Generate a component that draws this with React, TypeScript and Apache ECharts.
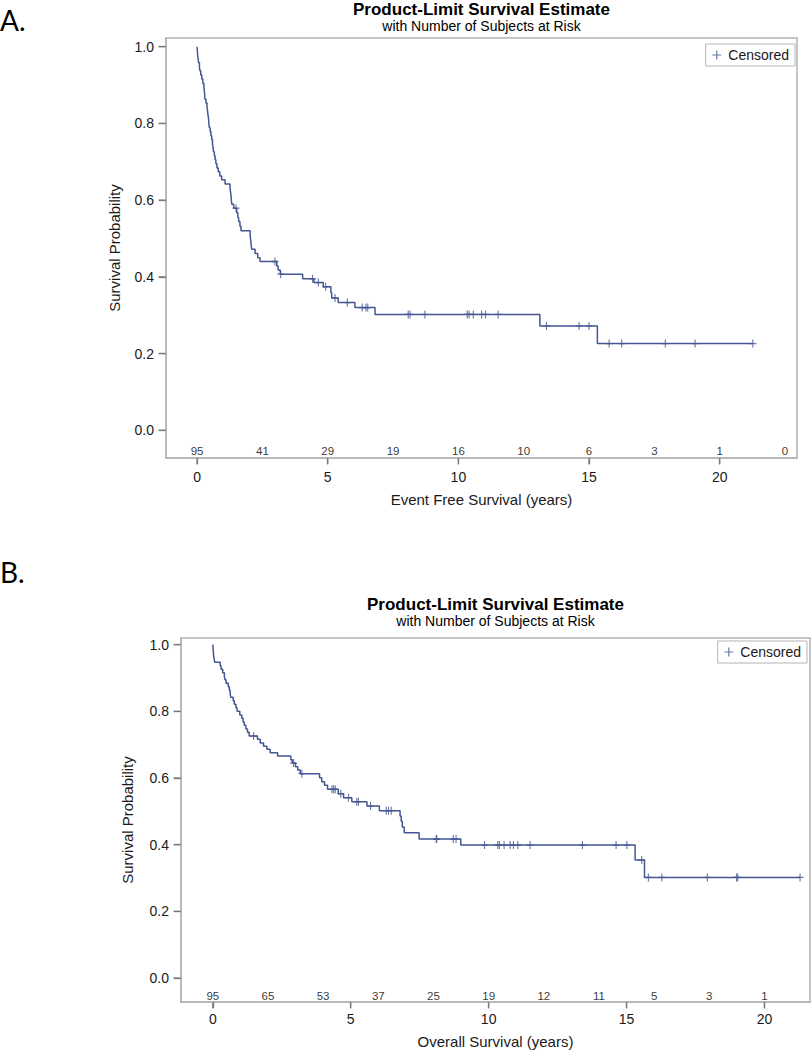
import React, { useEffect, useRef } from "react";
import * as echarts from "echarts";

// ---------- Panel A: Event Free Survival ----------
const efsEventTimes = [
  0.01, 0.02, 0.04, 0.06, 0.09, 0.11, 0.14, 0.18, 0.22, 0.26, 0.28, 0.29, 0.3, 0.34, 0.38, 0.4,
  0.42, 0.44, 0.45, 0.47, 0.5, 0.53, 0.56, 0.59, 0.61, 0.63, 0.66, 0.69, 0.72, 0.76, 0.81, 0.87,
  0.94, 1.07, 1.26, 1.28, 1.3, 1.31, 1.33, 1.4, 1.52, 1.56, 1.59, 1.64, 1.68, 2.03, 2.05, 2.07,
  2.09, 2.22, 2.32, 2.41, 3.05, 3.1, 3.18, 4.04, 4.47, 4.83, 5.12, 5.15, 5.4, 6.04, 6.81, 13.12,
  15.32,
];
const efsEventSurv = [
  0.989, 0.979, 0.968, 0.958, 0.947, 0.937, 0.926, 0.916, 0.905, 0.895, 0.884, 0.874, 0.863,
  0.853, 0.842, 0.832, 0.821, 0.811, 0.8, 0.789, 0.779, 0.768, 0.758, 0.747, 0.737, 0.726, 0.716,
  0.705, 0.695, 0.684, 0.674, 0.663, 0.653, 0.642, 0.632, 0.621, 0.611, 0.6, 0.589, 0.579, 0.567,
  0.555, 0.544, 0.532, 0.52, 0.508, 0.496, 0.484, 0.472, 0.461, 0.45, 0.44, 0.428, 0.418, 0.407,
  0.395, 0.385, 0.374, 0.359, 0.345, 0.333, 0.32, 0.302, 0.272, 0.226,
];
const efsCensorTimes = [
  1.49, 2.98, 3.2, 4.42, 4.64, 4.92, 5.28, 5.75, 6.32, 6.46, 6.53, 8.08, 8.15, 8.72, 10.34, 10.41,
  10.57, 10.89, 11.04, 11.52, 13.37, 14.62, 15.0, 15.77, 16.25, 17.92, 19.06, 21.27,
];
const efsRiskTimes = [0, 2.5, 5, 7.5, 10, 12.5, 15, 17.5, 20, 22.5];
const efsRiskCounts = [95, 41, 29, 19, 16, 10, 6, 3, 1, 0];

// ---------- Panel B: Overall Survival ----------
const osEventTimes = [
  0.01, 0.02, 0.03, 0.05, 0.07, 0.27, 0.3, 0.36, 0.42, 0.44, 0.48, 0.56, 0.6, 0.63, 0.65, 0.74,
  0.78, 0.84, 0.88, 0.98, 1.05, 1.1, 1.14, 1.2, 1.26, 1.32, 1.62, 1.72, 1.84, 1.96, 2.08, 2.35,
  2.83, 2.88, 3.0, 3.08, 3.17, 3.87, 3.95, 4.05, 4.16, 4.55, 4.74, 5.04, 5.59, 6.04, 6.79, 6.83,
  6.87, 6.94, 7.48, 8.99, 15.31, 15.65,
];
const osEventSurv = [
  0.989, 0.979, 0.968, 0.958, 0.947, 0.937, 0.926, 0.916, 0.905, 0.895, 0.884, 0.874, 0.863,
  0.853, 0.842, 0.832, 0.821, 0.811, 0.8, 0.789, 0.779, 0.768, 0.758, 0.747, 0.737, 0.726, 0.716,
  0.705, 0.695, 0.686, 0.676, 0.666, 0.655, 0.645, 0.634, 0.624, 0.613, 0.601, 0.589, 0.578,
  0.566, 0.553, 0.541, 0.529, 0.516, 0.502, 0.486, 0.47, 0.453, 0.436, 0.417, 0.399, 0.354, 0.302,
];
const osCensorTimes = [
  1.48, 2.93, 3.23, 4.32, 4.38, 4.44, 4.64, 4.92, 5.22, 5.28, 5.72, 6.29, 6.37, 6.47, 8.1, 8.12,
  8.72, 8.82, 9.85, 10.33, 10.39, 10.56, 10.78, 10.9, 11.06, 11.5, 13.4, 14.62, 15.01, 15.55,
  15.79, 16.28, 17.93, 18.99, 19.03, 21.29,
];
const osRiskTimes = [0, 2, 4, 6, 8, 10, 12, 14, 16, 18, 20];
const osRiskCounts = [95, 65, 53, 37, 25, 19, 12, 11, 5, 3, 1];

// ---------- Axis ticks ----------
const xTickValues = [0, 5, 10, 15, 20];
const yTickValues = [0, 0.2, 0.4, 0.6, 0.8, 1.0];

const LINE = "#445694";
const FRAME = "#b4b4b4";
const TICK = "#7a7a7a";
const TXT = "#1a1a1a";
const FONT = "Liberation Sans, Arial, sans-serif";
const PLUS = "path://M5,0L5,10M0,5L10,5";

function stepData(times: number[], surv: number[], censors: number[]) {
  const pts: number[][] = [[0, 1]];
  times.forEach((t, i) => pts.push([t, surv[i]]));
  const lastT = Math.max(times[times.length - 1], ...censors);
  pts.push([lastT, surv[surv.length - 1]]);
  return pts;
}
function survAt(times: number[], surv: number[], t: number) {
  let s = 1;
  for (let i = 0; i < times.length; i++) if (times[i] <= t) s = surv[i];
  return s;
}
function censorData(times: number[], surv: number[], censors: number[]) {
  return censors.map((c) => [c, survAt(times, surv, c)]);
}
function riskData(ts: number[], ns: number[], y: number) {
  return ts.map((t, i) => [t, y, ns[i]]);
}

function xAxisCfg(gridIndex: number, min: number, max: number, name: string, margin: number, gap: number) {
  return {
    type: "value",
    gridIndex,
    min,
    max,
    name,
    nameLocation: "middle",
    nameGap: gap,
    nameTextStyle: { fontSize: 15, color: TXT, fontFamily: FONT },
    axisLine: { show: true, onZero: false, lineStyle: { color: FRAME, width: 1.5 } },
    axisTick: { show: true, inside: false, length: 6, customValues: xTickValues, lineStyle: { color: TICK, width: 1.3 } },
    axisLabel: { customValues: xTickValues, fontSize: 14, color: TXT, fontFamily: FONT, margin },
    splitLine: { show: false },
  };
}
function yAxisCfg(gridIndex: number, min: number, max: number, gap: number) {
  return {
    type: "value",
    gridIndex,
    min,
    max,
    name: "Survival Probability",
    nameLocation: "middle",
    nameGap: gap,
    nameTextStyle: { fontSize: 15, color: TXT, fontFamily: FONT },
    axisLine: { show: true, onZero: false, lineStyle: { color: FRAME, width: 1.5 } },
    axisTick: { show: true, inside: false, length: 7, customValues: yTickValues, lineStyle: { color: TICK, width: 1.3 } },
    axisLabel: {
      customValues: yTickValues,
      fontSize: 14,
      color: TXT,
      fontFamily: FONT,
      margin: 12,
      formatter: (v: number) => v.toFixed(1),
    },
    splitLine: { show: false },
  };
}

function kmSeries(idx: number, times: number[], surv: number[], censors: number[], riskT: number[], riskN: number[], riskY: number) {
  return [
    {
      type: "line",
      name: "KM" + idx,
      xAxisIndex: idx,
      yAxisIndex: idx,
      step: "end",
      showSymbol: false,
      symbol: "none",
      data: stepData(times, surv, censors),
      lineStyle: { color: LINE, width: 1.5 },
      itemStyle: { color: LINE },
      silent: true,
      z: 2,
    },
    {
      type: "scatter",
      name: "Censored",
      xAxisIndex: idx,
      yAxisIndex: idx,
      symbol: PLUS,
      symbolSize: [7, 8],
      data: censorData(times, surv, censors),
      itemStyle: { color: "rgba(0,0,0,0)", borderColor: LINE, borderWidth: 1.2 },
      silent: true,
      z: 3,
    },
    {
      type: "scatter",
      name: "risk" + idx,
      xAxisIndex: idx,
      yAxisIndex: idx,
      symbolSize: 1,
      data: riskData(riskT, riskN, riskY),
      itemStyle: { color: "rgba(0,0,0,0)" },
      label: {
        show: true,
        position: "inside",
        formatter: (p: any) => String(p.value[2]),
        fontSize: 11.5,
        color: "#000",
        textBorderWidth: 0,
        fontFamily: FONT,
      },
      silent: true,
      z: 4,
    },
  ];
}

function legendCfg(right: number, top: number) {
  return {
    right,
    top,
    orient: "horizontal",
    data: [{ name: "Censored", icon: PLUS }],
    itemWidth: 9,
    itemHeight: 9,
    itemGap: 6,
    padding: [4, 6, 4, 6],
    borderColor: FRAME,
    borderWidth: 1,
    selectedMode: false,
    itemStyle: { color: "rgba(0,0,0,0)", borderColor: LINE, borderWidth: 1.2 },
    textStyle: { fontSize: 14, color: TXT, fontFamily: FONT, padding: [0, 0, 0, 2] },
  };
}

function titleTexts(cx: number, y: number) {
  return [
    {
      type: "text",
      x: cx,
      y,
      style: {
        text: "Product-Limit Survival Estimate",
        font: "bold 17px " + FONT,
        fill: "#000",
        align: "center",
        verticalAlign: "middle",
      },
    },
    {
      type: "text",
      x: cx,
      y: y + 17,
      style: {
        text: "with Number of Subjects at Risk",
        font: "14px " + FONT,
        fill: "#000",
        align: "center",
        verticalAlign: "middle",
      },
    },
  ];
}

const X_A = [-1.19, 22.96];
const Y_A = [-0.0723, 1.0227];
const X_B = [-1.152, 21.65];
const Y_B = [-0.0718, 1.02];

export default function App() {
  const ref = useRef<HTMLDivElement>(null);
  useEffect(() => {
    document.body.style.margin = "0";
    if (!ref.current) return;
    const chart = echarts.init(ref.current, undefined, { renderer: "svg" });
    const baseGraphic: any[] = [
      {
        type: "text",
        x: 0,
        y: 20,
        style: { text: "A.", font: "28px Lato, " + FONT, fill: "#000", verticalAlign: "middle" },
      },
      {
        type: "text",
        x: 0,
        y: 572,
        style: { text: "B.", font: "28px Lato, " + FONT, fill: "#000", verticalAlign: "middle" },
      },
      ...titleTexts(481.5, 9),
      ...titleTexts(495.5, 604),
    ];
    const option = {
      animation: false,
      backgroundColor: "#fff",
      grid: [
        { left: 166, top: 38, width: 631, height: 420, show: true, borderColor: FRAME, borderWidth: 1.5, backgroundColor: "transparent" },
        { left: 181, top: 638, width: 629, height: 365, show: true, borderColor: FRAME, borderWidth: 1.5, backgroundColor: "transparent" },
      ],
      xAxis: [
        xAxisCfg(0, X_A[0], X_A[1], "Event Free Survival (years)", 12, 34),
        xAxisCfg(1, X_B[0], X_B[1], "Overall Survival (years)", 10, 32),
      ],
      yAxis: [yAxisCfg(0, Y_A[0], Y_A[1], 44), yAxisCfg(1, Y_B[0], Y_B[1], 46)],
      legend: [legendCfg(16, 44), legendCfg(4, 641)],
      series: [
        ...kmSeries(0, efsEventTimes, efsEventSurv, efsCensorTimes, efsRiskTimes, efsRiskCounts, -0.055),
        ...kmSeries(1, osEventTimes, osEventSurv, osCensorTimes, osRiskTimes, osRiskCounts, -0.055),
      ],
      graphic: baseGraphic,
    };
    chart.setOption(option as any);

    // Tick marks placed through the chart's own axis scales
    const ticks: any[] = [];
    const panels = [
      { idx: 0, xMin: X_A[0], yMin: Y_A[0] },
      { idx: 1, xMin: X_B[0], yMin: Y_B[0] },
    ];
    panels.forEach(({ idx, xMin, yMin }) => {
      xTickValues.forEach((v) => {
        const p = chart.convertToPixel({ xAxisIndex: idx, yAxisIndex: idx } as any, [v, yMin]) as any;
        if (!p || !isFinite(p[0]) || !isFinite(p[1])) return;
        ticks.push({
          type: "line",
          silent: true,
          z: 100,
          shape: { x1: p[0], y1: p[1] + 0.75, x2: p[0], y2: p[1] + 6.5 },
          style: { stroke: TICK, lineWidth: 1.3 },
        });
      });
      yTickValues.forEach((v) => {
        const p = chart.convertToPixel({ xAxisIndex: idx, yAxisIndex: idx } as any, [xMin, v]) as any;
        if (!p || !isFinite(p[0]) || !isFinite(p[1])) return;
        ticks.push({
          type: "line",
          silent: true,
          z: 100,
          shape: { x1: p[0] - 7.5, y1: p[1], x2: p[0] - 0.75, y2: p[1] },
          style: { stroke: TICK, lineWidth: 1.3 },
        });
      });
    });
    chart.setOption({ graphic: [...baseGraphic, ...ticks] } as any);
    return () => chart.dispose();
  }, []);
  return <div ref={ref} style={{ width: 811, height: 1050 }} />;
}
